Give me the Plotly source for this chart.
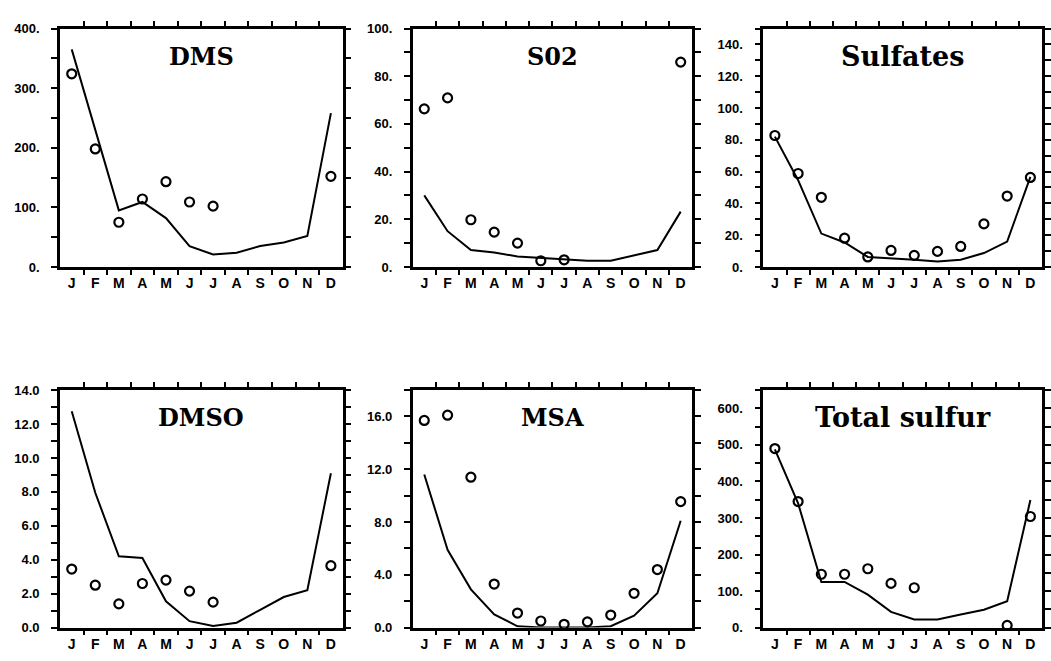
import plotly.graph_objects as go

# Month axis
months = ["J", "F", "M", "A", "M", "J", "J", "A", "S", "O", "N", "D"]
month_pos = list(range(1, 13))
month_bounds = [m + 0.5 for m in range(1, 12)]

# Model (line) and observed (circles) seasonal cycles
dms_model = [365, 230, 95, 109, 82, 35, 21, 24, 35, 41, 52, 258]
dms_obs = [324, 198, 75, 114, 143, 109, 102, None, None, None, None, 152]

so2_model = [30, 15, 7.1, 6.1, 4.4, 3.7, 3.0, 2.6, 2.6, 5.0, 7.1, 23.2]
so2_obs = [66.3, 70.9, 19.8, 14.6, 10.0, 2.6, 3.0, None, None, None, None, 85.9]

sulf_model = [82, 54.6, 21, 15.4, 6.3, 5.6, 4.6, 3.5, 4.6, 8.75, 16, 56.7]
sulf_obs = [82.7, 58.8, 43.8, 18.1, 6.3, 10.4, 7.3, 9.8, 12.9, 27.1, 44.6, 56.3]

dmso_model = [12.75, 7.95, 4.2, 4.1, 1.55, 0.38, 0.1, 0.29, 1.05, 1.8, 2.2, 9.1]
dmso_obs = [3.45, 2.5, 1.4, 2.6, 2.8, 2.15, 1.5, None, None, None, None, 3.65]

msa_model = [11.6, 5.9, 2.9, 1.0, 0.1, 0.0, 0.0, 0.0, 0.1, 0.9, 2.6, 8.1]
msa_obs = [15.7, 16.1, 11.4, 3.3, 1.1, 0.5, 0.25, 0.43, 0.95, 2.6, 4.4, 9.55]

total_model = [488, 340, 125, 125, 90, 43, 22, 22, 36, 49, 72, 349]
total_obs = [490, 345, 146, 146, 161, 121, 109, None, None, None, 6, 304]

# Y tick positions and labels per panel
dms_ticks = [0, 50, 100, 150, 200, 250, 300, 350, 400]
dms_labels = ["0.", "", "100.", "", "200.", "", "300.", "", "400."]
so2_ticks = [0, 10, 20, 30, 40, 50, 60, 70, 80, 90, 100]
so2_labels = ["0.", "", "20.", "", "40.", "", "60.", "", "80.", "", "100."]
sulf_ticks = [0, 10, 20, 30, 40, 50, 60, 70, 80, 90, 100, 110, 120, 130, 140, 150]
sulf_labels = ["0.", "", "20.", "", "40.", "", "60.", "", "80.", "", "100.", "", "120.", "", "140.", ""]
dmso_ticks = [0, 1, 2, 3, 4, 5, 6, 7, 8, 9, 10, 11, 12, 13, 14]
dmso_labels = ["0.0", "", "2.0", "", "4.0", "", "6.0", "", "8.0", "", "10.0", "", "12.0", "", "14.0"]
msa_ticks = [0, 2, 4, 6, 8, 10, 12, 14, 16, 18]
msa_labels = ["0.0", "", "4.0", "", "8.0", "", "12.0", "", "16.0", ""]
total_ticks = [0, 50, 100, 150, 200, 250, 300, 350, 400, 450, 500, 550, 600, 650]
total_labels = ["0.", "", "100.", "", "200.", "", "300.", "", "400.", "", "500.", "", "600.", ""]

panels = [
    ("DMS", dms_model, dms_obs, [0, 400], dms_ticks, dms_labels),
    ("S02", so2_model, so2_obs, [0, 100], so2_ticks, so2_labels),
    ("Sulfates", sulf_model, sulf_obs, [0, 150], sulf_ticks, sulf_labels),
    ("DMSO", dmso_model, dmso_obs, [0, 14], dmso_ticks, dmso_labels),
    ("MSA", msa_model, msa_obs, [0, 18], msa_ticks, msa_labels),
    ("Total sulfur", total_model, total_obs, [0, 650], total_ticks, total_labels),
]

W, H = 1051, 661
col_px = [(60, 343), (413, 693), (764, 1043)]
row_px = [(22, 266), (392, 635)]
title_y_px = [51, 420]

caps_font = dict(family="DejaVu Serif", size=24, color="black", weight="bold")
mixed_font = dict(family="DejaVu Serif", size=27, color="black", weight="bold")

fig = go.Figure()
layout = {}
annotations = []

for i, (name, model, obs, yr, tv, tt) in enumerate(panels):
    r, c = divmod(i, 3)
    n = "" if i == 0 else str(i + 1)
    nl = str(i + 7)  # overlay axis carrying the month labels
    xa, ya, xl = "x" + n, "y" + n, "x" + nl
    x0, x1 = col_px[c]
    y0, y1 = row_px[r]
    xdom = [x0 / W, x1 / W]
    ydom = [1 - y1 / H, 1 - y0 / H]

    fig.add_trace(go.Scatter(
        x=month_pos, y=model, mode="lines", xaxis=xa, yaxis=ya,
        line=dict(color="black", width=2), showlegend=False, hoverinfo="skip"))
    fig.add_trace(go.Scatter(
        x=month_pos, y=obs, mode="markers", xaxis=xa, yaxis=ya,
        marker=dict(symbol="circle-open", size=9, color="black",
                    line=dict(color="black", width=2.2)),
        showlegend=False, hoverinfo="skip", cliponaxis=False))
    # empty trace so the label axis is drawn
    fig.add_trace(go.Scatter(
        x=[1], y=[None], mode="markers", xaxis=xl, yaxis=ya,
        showlegend=False, hoverinfo="skip"))

    # frame axis: month-boundary ticks on bottom and top
    layout["xaxis" + n] = dict(
        domain=xdom, anchor=ya, range=[0.5, 12.5],
        tickmode="array", tickvals=month_bounds, ticktext=[""] * len(month_bounds),
        ticks="outside", ticklen=5, tickwidth=2, tickcolor="black",
        showline=True, linecolor="black", linewidth=2.5, mirror="ticks",
        showgrid=False, zeroline=False,
    )
    # label axis: month initials at month centres
    layout["xaxis" + nl] = dict(
        overlaying=xa, anchor=ya, side="bottom", range=[0.5, 12.5],
        tickmode="array", tickvals=month_pos, ticktext=months, ticks="",
        showline=False, showgrid=False, zeroline=False, ticklabelstandoff=6,
        tickfont=dict(family="Liberation Sans", size=14, color="black", weight="bold"),
    )
    layout["yaxis" + n] = dict(
        domain=ydom, anchor=xa, range=yr,
        tickmode="array", tickvals=tv, ticktext=tt,
        ticks="outside", ticklen=6, tickwidth=2, tickcolor="black",
        showline=True, linecolor="black", linewidth=2.5, mirror="ticks",
        showgrid=False, zeroline=False, ticklabelstandoff=9,
        tickfont=dict(family="Liberation Sans", size=13, color="black", weight="bold"),
    )
    annotations.append(dict(
        text=name, xref="paper", yref="paper",
        x=(xdom[0] + xdom[1]) / 2, y=1 - title_y_px[r] / H,
        xanchor="center", yanchor="middle", showarrow=False,
        font=caps_font if name.isupper() else mixed_font,
    ))

fig.update_layout(
    **layout,
    annotations=annotations,
    width=W, height=H,
    margin=dict(l=0, r=0, t=0, b=0),
    paper_bgcolor="white", plot_bgcolor="white",
)

fig.write_html("out.html")
